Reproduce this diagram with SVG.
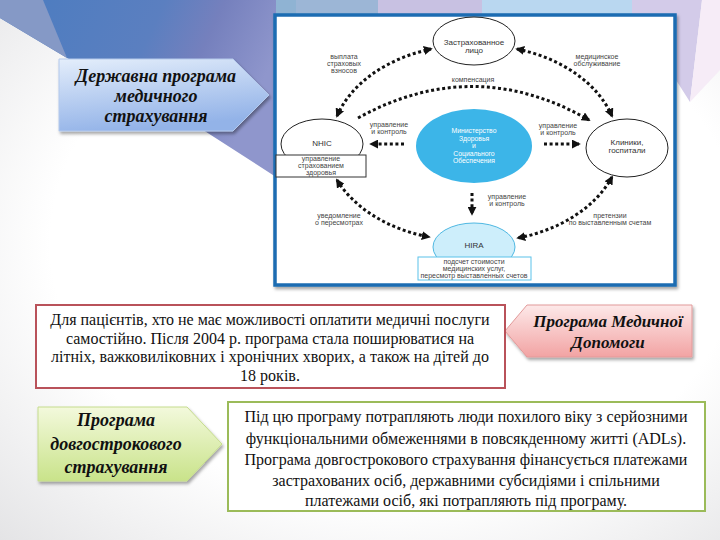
<svg xmlns="http://www.w3.org/2000/svg" width="720" height="540" viewBox="0 0 720 540">
<defs>
  <radialGradient id="bg" cx="0.55" cy="0.45" r="0.8">
    <stop offset="0.6" stop-color="#ffffff"/>
    <stop offset="1" stop-color="#e2e2e4"/>
  </radialGradient>
  <linearGradient id="navy" x1="0" y1="0" x2="1" y2="0.3">
    <stop offset="0" stop-color="#4a7cc0"/>
    <stop offset="0.55" stop-color="#5b7fc0"/>
    <stop offset="0.75" stop-color="#7580bd"/>
    <stop offset="1" stop-color="#8f96cc"/>
  </linearGradient>
  <linearGradient id="blueBox" x1="0" y1="0" x2="0.3" y2="1">
    <stop offset="0" stop-color="#e4eefb"/>
    <stop offset="1" stop-color="#93b3e8"/>
  </linearGradient>
  <linearGradient id="pinkBox" x1="0" y1="0" x2="0" y2="1">
    <stop offset="0" stop-color="#fde9e9"/>
    <stop offset="1" stop-color="#f2a3a3"/>
  </linearGradient>
  <linearGradient id="greenBox" x1="0" y1="0" x2="0" y2="1">
    <stop offset="0" stop-color="#f3f9dc"/>
    <stop offset="1" stop-color="#c9e38a"/>
  </linearGradient>
  <filter id="sh" x="-10%" y="-10%" width="130%" height="140%">
    <feDropShadow dx="1.5" dy="2.5" stdDeviation="1.5" flood-color="#000" flood-opacity="0.35"/>
  </filter>
  <marker id="ah" viewBox="0 0 10 10" refX="8" refY="5" markerWidth="9" markerHeight="9" markerUnits="userSpaceOnUse" orient="auto-start-reverse">
    <path d="M0,0 L10,5 L0,10 Z" fill="#111"/>
  </marker>
  <style>
    .dot{fill:none;stroke:#111;stroke-width:3;stroke-dasharray:3 2.6}
    .ell{fill:#fff;stroke:#222;stroke-width:1}
    .sm{font-family:"Liberation Sans","DejaVu Sans",sans-serif;font-size:7px;fill:#444;text-anchor:middle}
    .nd{font-family:"Liberation Sans","DejaVu Sans",sans-serif;font-size:8px;fill:#333;text-anchor:middle}
    .wt{font-family:"Liberation Sans","DejaVu Sans",sans-serif;font-size:6.8px;fill:#fff;text-anchor:middle}
    .ttl{font-family:"Liberation Serif","DejaVu Serif",serif;font-weight:bold;font-style:italic;fill:#111;text-anchor:middle}
    .body{font-family:"Liberation Serif","DejaVu Serif",serif;fill:#111;text-anchor:middle}
  </style>
</defs>

<!-- background -->
<rect width="720" height="540" fill="url(#bg)"/>
<polygon points="0,0 276,0 276,177 200,128 67,58 0,18" fill="url(#navy)"/>
<polygon points="0,0 43,0 67,58 0,18" fill="#8599c6"/>
<polygon points="276,0 296,0 296,20 276,20" fill="#8fb3d3"/>
<polygon points="296,0 378,0 378,20 296,20" fill="#9cb6d6"/>
<polygon points="378,0 482,0 482,20 378,20" fill="#c8c1e2"/>
<polygon points="482,0 632,0 632,20 482,20" fill="#b9d7f0"/>
<polygon points="632,0 702,0 690,102 676,80 676,20 632,20" fill="#d3cbe9"/>
<polygon points="702,0 720,0 720,70 690,102" fill="#f6ecf7"/>

<!-- diagram frame -->
<g id="frame">
  <rect x="275" y="15" width="400" height="270" fill="#fff" stroke="#1c6cb2" stroke-width="3.5" filter="url(#sh)"/>
</g>

<!-- connectors -->
<g id="connectors">
  <path class="dot" d="M337,116 A140,102 0 0 1 431,49" marker-start="url(#ah)" marker-end="url(#ah)"/>
  <path class="dot" d="M517,49 A140,102 0 0 1 612,116" marker-start="url(#ah)" marker-end="url(#ah)"/>
  <path class="dot" d="M358,118 Q474,54 589,120" marker-end="url(#ah)"/>
  <path class="dot" d="M404,144 L371,144" marker-end="url(#ah)"/>
  <path class="dot" d="M544,144 L579,144" marker-end="url(#ah)"/>
  <path class="dot" d="M472,193 L472,214" marker-end="url(#ah)"/>
  <path class="dot" d="M337,180 A140,102 0 0 0 429,237" marker-start="url(#ah)" marker-end="url(#ah)"/>
  <path class="dot" d="M612,177 A140,102 0 0 1 518,238" marker-start="url(#ah)" marker-end="url(#ah)"/>
</g>

<!-- connector labels -->
<g id="labels">
  <text class="sm" x="344" y="59">выплата</text>
  <text class="sm" x="344" y="66">страховых</text>
  <text class="sm" x="344" y="73">взносов</text>
  <text class="sm" x="597" y="59">медицинское</text>
  <text class="sm" x="597" y="66">обслуживание</text>
  <text class="sm" x="473" y="82">компенсация</text>
  <text class="sm" x="389" y="127">управление</text>
  <text class="sm" x="389" y="134">и контроль</text>
  <text class="sm" x="558" y="128">управление</text>
  <text class="sm" x="558" y="135">и контроль</text>
  <text class="sm" x="507" y="199">управление</text>
  <text class="sm" x="507" y="206">и контроль</text>
  <text class="sm" x="339" y="218">уведомление</text>
  <text class="sm" x="339" y="225">о пересмотрах</text>
  <text class="sm" x="610" y="218">претензии</text>
  <text class="sm" x="610" y="225">по выставленным счетам</text>
</g>

<g id="insured">
  <ellipse class="ell" cx="474" cy="41" rx="41" ry="24"/>
  <text class="nd" x="474" y="45">Застрахованное</text>
  <text class="nd" x="474" y="53">лицо</text>
</g>

<g id="nhic">
  <ellipse class="ell" cx="322" cy="144" rx="41" ry="25"/>
  <text class="nd" x="322" y="146">NHIC</text>
  <rect x="276" y="155" width="90" height="22" fill="#fff" stroke="#333" stroke-width="1"/>
  <text class="sm" x="321" y="161">управление</text>
  <text class="sm" x="321" y="168">страхованием</text>
  <text class="sm" x="321" y="175">здоровья</text>
</g>

<g id="ministry">
  <ellipse cx="474" cy="146" rx="58" ry="37" fill="#3cb5e8"/>
  <text class="wt" x="474" y="133">Министерство</text>
  <text class="wt" x="474" y="140.5">Здоровья</text>
  <text class="wt" x="474" y="148">и</text>
  <text class="wt" x="474" y="155.5">Социального</text>
  <text class="wt" x="474" y="163">Обеспечения</text>
</g>

<g id="clinics">
  <ellipse class="ell" cx="627" cy="148" rx="41" ry="29"/>
  <text class="nd" x="627" y="145">Клиники,</text>
  <text class="nd" x="627" y="153">госпитали</text>
</g>

<g id="hira">
  <ellipse cx="474" cy="247" rx="41" ry="24" fill="#cdeefb" stroke="#4fb8e2" stroke-width="1"/>
  <text class="nd" x="474" y="248">HIRA</text>
  <rect x="418" y="257" width="113" height="23" fill="#fff" stroke="#5bc2ea" stroke-width="1"/>
  <text class="sm" x="474" y="264">подсчет стоимости</text>
  <text class="sm" x="474" y="271">медицинских услуг,</text>
  <text class="sm" x="474" y="278">пересмотр выставленных счетов</text>
</g>

<!-- program arrow boxes -->
<g id="state-program">
  <polygon points="59,59 233,59 269,95 233,131 59,131" fill="url(#blueBox)" stroke="#b4c9ec" stroke-width="1" filter="url(#sh)"/>
  <text class="ttl" font-size="18" x="156" y="82">Державна програма</text>
  <text class="ttl" font-size="18" x="156" y="102">медичного</text>
  <text class="ttl" font-size="18" x="156" y="122">страхування</text>
</g>

<g id="medical-aid">
  <polygon points="505,331 527,305 692,305 692,357 527,357" fill="url(#pinkBox)" stroke="#e29a9a" stroke-width="1" filter="url(#sh)"/>
  <text class="ttl" font-size="17" x="608" y="327">Програма Медичної</text>
  <text class="ttl" font-size="17" x="608" y="348">Допомоги</text>
</g>

<g id="medical-aid-text">
  <rect x="36" y="305" width="469" height="83" fill="#fff" stroke="#b9525a" stroke-width="2"/>
  <text class="body" font-size="16" x="270" y="325">Для пацієнтів, хто не має можливості оплатити медичні послуги</text>
  <text class="body" font-size="16" x="270" y="344">самостійно. Після 2004 р. програма стала поширюватися на</text>
  <text class="body" font-size="16" x="270" y="362">літніх, важковиліковних і хронічних хворих, а також на дітей до</text>
  <text class="body" font-size="16" x="270" y="381">18 років.</text>
</g>

<g id="longterm">
  <polygon points="38,407 187,407 222,444 187,481 38,481" fill="url(#greenBox)" stroke="#c6dc8e" stroke-width="1" filter="url(#sh)"/>
  <text class="ttl" font-size="18" x="116" y="426">Програма</text>
  <text class="ttl" font-size="18" x="116" y="450">довгострокового</text>
  <text class="ttl" font-size="18" x="116" y="473">страхування</text>
</g>

<g id="longterm-text">
  <rect x="228" y="402" width="477" height="109" fill="#fff" stroke="#9bbb59" stroke-width="2"/>
  <text class="body" font-size="16" x="466" y="422">Під цю програму потрапляють люди похилого віку з серйозними</text>
  <text class="body" font-size="16" x="466" y="444">функціональними обмеженнями в повсякденному житті (ADLs).</text>
  <text class="body" font-size="16" x="466" y="465">Програма довгострокового страхування фінансується платежами</text>
  <text class="body" font-size="16" x="466" y="486">застрахованих осіб, державними субсидіями і спільними</text>
  <text class="body" font-size="16" x="466" y="506">платежами осіб, які потрапляють під програму.</text>
</g>
</svg>
